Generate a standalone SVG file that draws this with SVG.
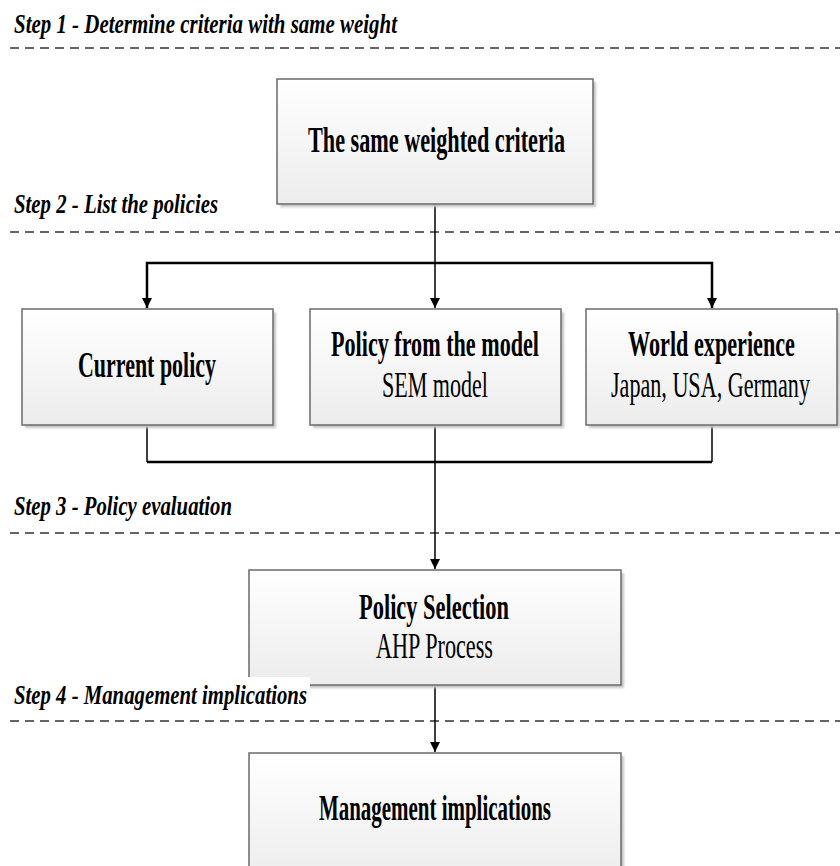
<svg xmlns="http://www.w3.org/2000/svg" width="840" height="866" viewBox="0 0 840 866">
<defs>
<linearGradient id="boxfill" x1="0" y1="0" x2="0" y2="1">
<stop offset="0" stop-color="#ffffff"/>
<stop offset="1" stop-color="#ececec"/>
</linearGradient>
<filter id="blur" x="-5%" y="-5%" width="110%" height="110%"><feGaussianBlur stdDeviation="1"/></filter>
<marker id="arr" viewBox="0 0 10 14" refX="10" refY="7" markerWidth="10" markerHeight="14" markerUnits="userSpaceOnUse" orient="auto">
<path d="M0,2 L10,7 L0,12 Z" fill="#000"/>
</marker>
<style>
.box{fill:url(#boxfill);stroke:#6a6a6a;stroke-width:1.5}
.shadow{fill:#c4c4c4;filter:url(#blur)}
.step{font-family:"Liberation Serif","Times New Roman",serif;font-style:italic;font-weight:bold;font-size:28px;fill:#000}
.b{font-family:"Liberation Serif","Times New Roman",serif;font-weight:bold;font-size:35px;fill:#000}
.n{font-family:"Liberation Serif","Times New Roman",serif;font-size:35px;fill:#000}
.dash{stroke:#333;stroke-width:1.5;stroke-dasharray:9 6;fill:none}
.v{stroke:#000;stroke-width:1.5;fill:none}
.h{stroke:#000;stroke-width:2.5;fill:none}
</style>
</defs>
<rect width="840" height="866" fill="#fff"/>

<g id="steps">
<text class="step" transform="translate(14,33) scale(0.8,1)" textLength="478.75" lengthAdjust="spacingAndGlyphs">Step 1 - Determine criteria with same weight</text>
<line class="dash" x1="10" y1="48" x2="840" y2="48"/>
<text class="step" transform="translate(14,213) scale(0.8,1)" textLength="255" lengthAdjust="spacingAndGlyphs">Step 2 - List the policies</text>
<line class="dash" x1="10" y1="232" x2="840" y2="232"/>
<text class="step" transform="translate(14,515) scale(0.8,1)" textLength="272.5" lengthAdjust="spacingAndGlyphs">Step 3 - Policy evaluation</text>
<line class="dash" x1="10" y1="533" x2="840" y2="533"/>
<line class="dash" x1="10" y1="721" x2="840" y2="721"/>
</g>

<g id="connectors">
<line class="v" x1="435" y1="204" x2="435" y2="308" marker-end="url(#arr)"/>
<polyline class="h" points="147,308 147,263 712,263 712,308"/>
<line class="v" x1="147" y1="270" x2="147" y2="308" marker-end="url(#arr)"/>
<line class="v" x1="712" y1="270" x2="712" y2="308" marker-end="url(#arr)"/>
<line class="v" x1="147" y1="425" x2="147" y2="462"/>
<line class="v" x1="712" y1="425" x2="712" y2="462"/>
<polyline class="h" points="147,462 712,462"/>
<line class="v" x1="435" y1="425" x2="435" y2="569" marker-end="url(#arr)"/>
<line class="v" x1="435" y1="685" x2="435" y2="752" marker-end="url(#arr)"/>
</g>

<g id="n-criteria">
<rect class="shadow" x="280" y="82" width="316" height="125"/>
<rect class="box" x="277" y="79" width="316" height="125"/>
<text class="b" transform="translate(308,152) scale(0.64,1)" textLength="401.6" lengthAdjust="spacingAndGlyphs">The same weighted criteria</text>
</g>

<g id="n-current">
<rect class="shadow" x="25" y="312" width="251" height="116"/>
<rect class="box" x="22" y="309" width="251" height="116"/>
<text class="b" transform="translate(78,377) scale(0.64,1)" textLength="215.6" lengthAdjust="spacingAndGlyphs">Current policy</text>
</g>

<g id="n-model">
<rect class="shadow" x="313" y="312" width="251" height="116"/>
<rect class="box" x="310" y="309" width="251" height="116"/>
<text class="b" transform="translate(331,356) scale(0.64,1)" textLength="325" lengthAdjust="spacingAndGlyphs">Policy from the model</text>
<text class="n" transform="translate(382,397) scale(0.64,1)" textLength="165.6" lengthAdjust="spacingAndGlyphs">SEM model</text>
</g>

<g id="n-world">
<rect class="shadow" x="589" y="312" width="251" height="116"/>
<rect class="box" x="586" y="309" width="251" height="116"/>
<text class="b" transform="translate(628,356) scale(0.64,1)" textLength="260.9" lengthAdjust="spacingAndGlyphs">World experience</text>
<text class="n" transform="translate(611,397) scale(0.64,1)" textLength="310.9" lengthAdjust="spacingAndGlyphs">Japan, USA, Germany</text>
</g>

<g id="n-selection">
<rect class="shadow" x="252" y="573" width="372" height="115"/>
<rect class="box" x="249" y="570" width="372" height="115"/>
<text class="b" transform="translate(359,619) scale(0.64,1)" textLength="234.4" lengthAdjust="spacingAndGlyphs">Policy Selection</text>
<text class="n" transform="translate(376,658) scale(0.64,1)" textLength="182.8" lengthAdjust="spacingAndGlyphs">AHP Process</text>
</g>

<g id="step4-label">
<rect x="0" y="677" width="310" height="34" fill="#fff"/>
<text class="step" transform="translate(14,704) scale(0.8,1)" textLength="366.25" lengthAdjust="spacingAndGlyphs">Step 4 - Management implications</text>
</g>

<g id="n-management">
<rect class="shadow" x="252" y="756" width="372" height="130"/>
<rect class="box" x="249" y="753" width="372" height="130"/>
<text class="b" transform="translate(319,820) scale(0.64,1)" textLength="362.5" lengthAdjust="spacingAndGlyphs">Management implications</text>
</g>
</svg>
